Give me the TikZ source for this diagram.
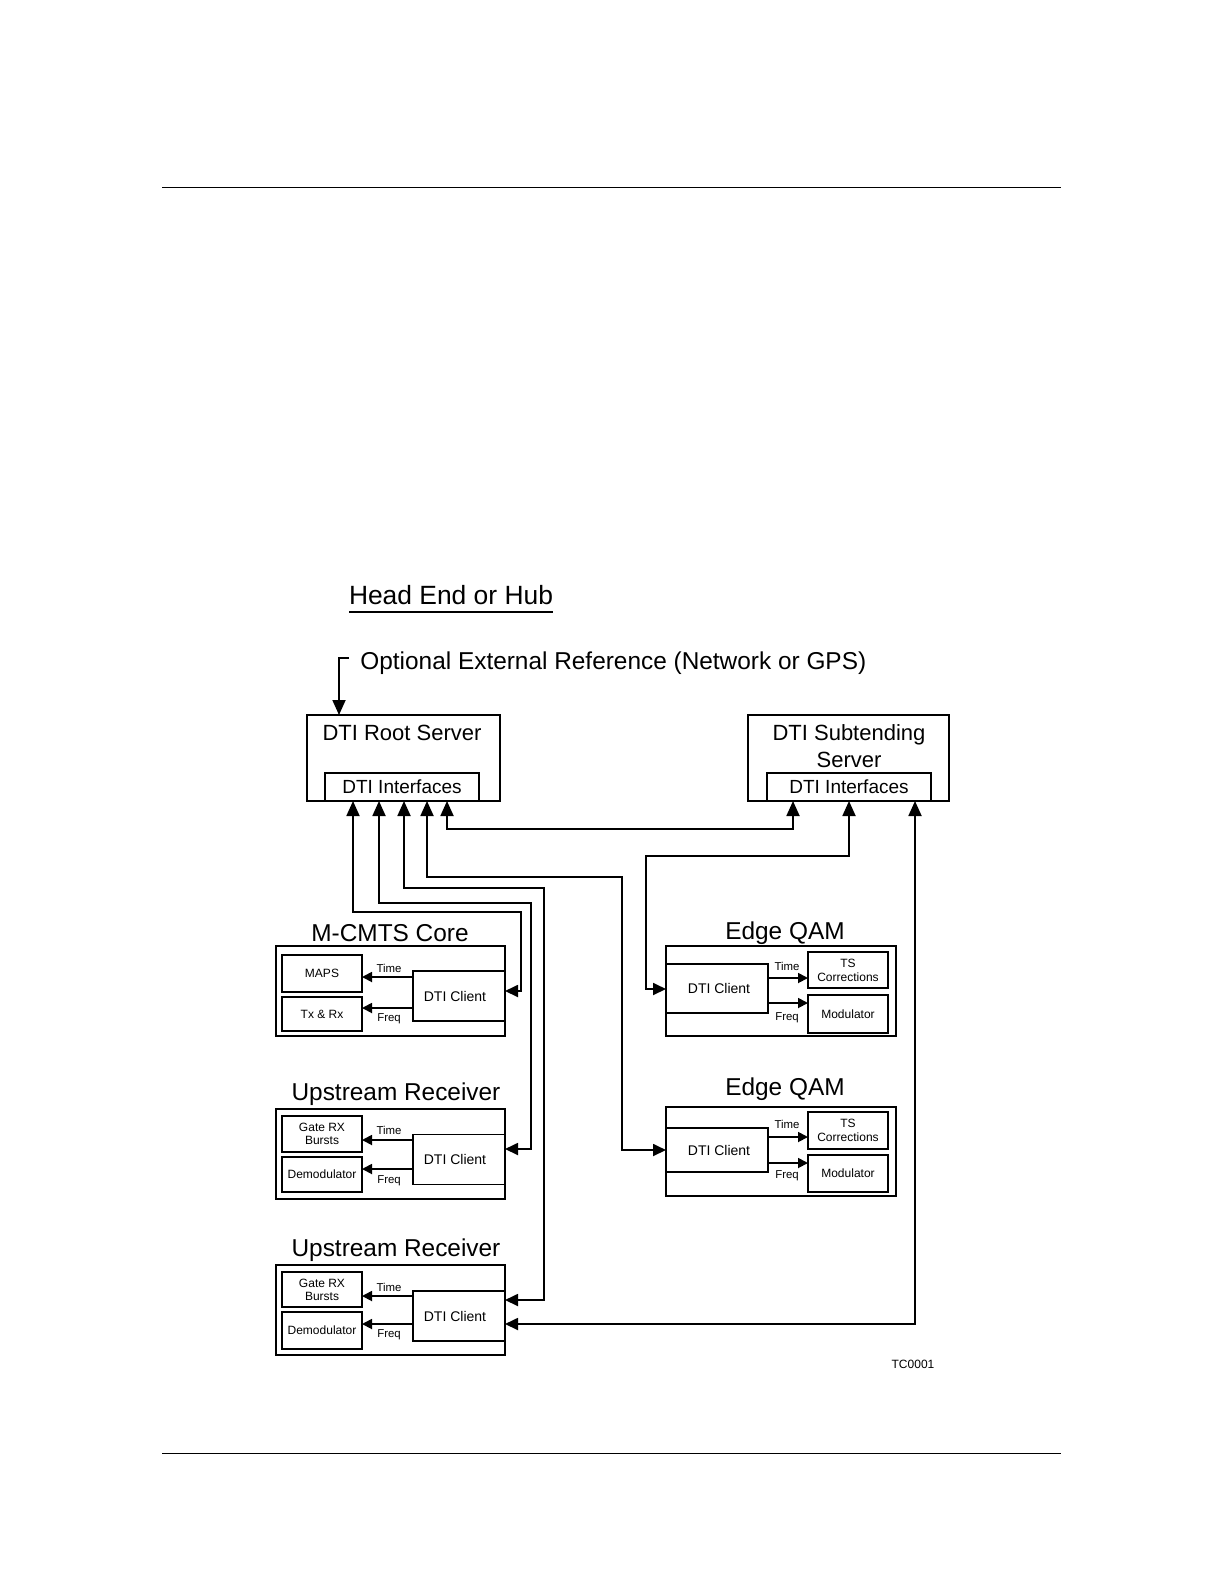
\documentclass[tikz,border=0pt]{standalone}
\usepackage{fontspec}
\setmainfont{Liberation Sans}
\usetikzlibrary{arrows.meta}
\tikzset{
  bigtip/.tip={Triangle[width=6.5pt,length=7.5pt]},
  midtip/.tip={Triangle[width=6pt,length=6.5pt]},
  smalltip/.tip={Triangle[width=5pt,length=5pt]},
  conn/.style={line width=0.9pt},
  rulestyle/.style={line width=0.7pt},
  srvbox/.style={draw, rectangle, line width=0.7pt, inner sep=0pt, outer sep=0pt},
  ifbox/.style={draw, rectangle, line width=0.9pt, inner sep=0pt, outer sep=0pt, font=\fontsize{9.5}{11}\selectfont},
  outerbox/.style={draw, rectangle, line width=0.7pt, inner sep=0pt, outer sep=0pt},
  thickouter/.style={draw, rectangle, line width=1.4pt, inner sep=0pt, outer sep=0pt},
  funcbox/.style={draw, rectangle, line width=1pt, inner sep=0pt, outer sep=0pt, align=center, font=\fontsize{6}{6.5}\selectfont},
  clientbox/.style={draw, rectangle, line width=0.8pt, inner sep=0pt, outer sep=0pt, font=\fontsize{7}{8}\selectfont},
  ttl/.style={inner sep=0pt, font=\fontsize{12.2}{14}\selectfont},
  srvttl/.style={inner sep=0pt, align=center, font=\fontsize{11}{13.5}\selectfont},
  sml/.style={inner sep=0pt, font=\fontsize{5.7}{6.5}\selectfont},
}
\begin{document}
\begin{tikzpicture}[x=0.5pt,y=-0.5pt]
\useasboundingbox (0,0) rectangle (1224,1584);

% page rules
\coordinate (r1L) at (162,187.5); \coordinate (r1R) at (1061,187.5);
\coordinate (r2L) at (162,1453.5); \coordinate (r2R) at (1061,1453.5);
\draw[rulestyle] (r1L) -- (r1R);
\draw[rulestyle] (r2L) -- (r2R);

% heading
\node[inner sep=0pt, anchor=base, font=\fontsize{13.2}{15}\selectfont] (head) at (451,604) {Head End or Hub};
\coordinate (ulL) at (349,612); \coordinate (ulR) at (553,612);
\draw[line width=0.8pt] (ulL) -- (ulR);

\node[inner sep=0pt, anchor=west, font=\fontsize{12.2}{14}\selectfont] (ext) at (360,663) {Optional External Reference (Network or GPS)};

% servers
\node[srvbox, minimum width=96.5pt, minimum height=43pt] (root) at (403.5,758) {};
\node[srvttl] (roottitle) at (402,733) {DTI Root Server};
\node[ifbox, minimum width=77pt, minimum height=14pt] (rootif) at (402,787) {DTI Interfaces};

\node[srvbox, minimum width=100.5pt, minimum height=43pt] (sub) at (848.5,758) {};
\node[srvttl] (subtitle) at (849,746.5) {DTI Subtending\\Server};
\node[ifbox, minimum width=82pt, minimum height=14pt] (subif) at (849,787) {DTI Interfaces};

% external reference bracket
\coordinate (brkA) at (349,658); \coordinate (brkB) at (339,658);
\draw[conn, -bigtip] (brkA) -- (brkB) -- (brkB |- root.north);

% M-CMTS Core
\node[ttl] (mctitle) at (390,933) {M-CMTS Core};
\node[outerbox, minimum width=114.5pt, minimum height=45pt] (mc) at (390.5,991) {};
\node[funcbox, minimum width=40pt, minimum height=18.5pt] (maps) at (322,973.5) {MAPS};
\node[funcbox, minimum width=40pt, minimum height=17pt] (txrx) at (322,1014) {Tx \& Rx};
\node[clientbox, minimum width=46pt, minimum height=25pt] (mcc) at (459,996) {\hspace*{-4pt}DTI Client};
\coordinate (mcT) at (0,977); \coordinate (mcF) at (0,1008);
\draw[conn, -smalltip] (mcc.west |- mcT) -- (maps.east |- mcT);
\draw[conn, -smalltip] (mcc.west |- mcF) -- (txrx.east |- mcF);
\node[sml] (mcTl) at (389,968) {Time};
\node[sml] (mcFl) at (389,1019) {Freq};

% Upstream Receiver 1
\node[ttl] (u1title) at (396,1094) {Upstream Receiver};
\node[outerbox, minimum width=114.5pt, minimum height=45pt] (u1) at (390.5,1154) {};
\node[funcbox, minimum width=40pt, minimum height=18pt] (u1g) at (322,1134) {Gate RX\\Bursts};
\node[funcbox, minimum width=40pt, minimum height=17.5pt] (u1d) at (322,1174.5) {Demodulator};
\node[clientbox, minimum width=46pt, minimum height=25pt] (u1c) at (459,1159.5) {\hspace*{-4pt}DTI Client};
\coordinate (u1T) at (0,1140); \coordinate (u1F) at (0,1169);
\draw[conn, -smalltip] (u1c.west |- u1T) -- (u1g.east |- u1T);
\draw[conn, -smalltip] (u1c.west |- u1F) -- (u1d.east |- u1F);
\node[sml] (u1Tl) at (389,1130) {Time};
\node[sml] (u1Fl) at (389,1181) {Freq};

% Upstream Receiver 2
\node[ttl] (u2title) at (396,1250) {Upstream Receiver};
\node[outerbox, minimum width=114.5pt, minimum height=45pt] (u2) at (390.5,1310) {};
\node[funcbox, minimum width=40pt, minimum height=17.5pt] (u2g) at (322,1289.5) {Gate RX\\Bursts};
\node[funcbox, minimum width=40pt, minimum height=18.5pt] (u2d) at (322,1330.5) {Demodulator};
\node[clientbox, minimum width=46pt, minimum height=25pt] (u2c) at (459,1316) {\hspace*{-4pt}DTI Client};
\coordinate (u2T) at (0,1296); \coordinate (u2F) at (0,1324);
\draw[conn, -smalltip] (u2c.west |- u2T) -- (u2g.east |- u2T);
\draw[conn, -smalltip] (u2c.west |- u2F) -- (u2d.east |- u2F);
\node[sml] (u2Tl) at (389,1287) {Time};
\node[sml] (u2Fl) at (389,1335) {Freq};

% Edge QAM 1
\node[ttl] (e1title) at (785,933) {Edge QAM};
\node[thickouter, minimum width=115pt, minimum height=45pt] (e1) at (781,991) {};
\node[clientbox, minimum width=51pt, minimum height=24.5pt] (e1c) at (717,988.5) {\hspace*{2pt}DTI Client};
\node[funcbox, minimum width=40pt, minimum height=18pt] (e1t) at (848,970) {TS\\[0.5pt]Corrections};
\node[funcbox, minimum width=40pt, minimum height=19pt] (e1m) at (848,1014) {Modulator};
\coordinate (e1T) at (0,978); \coordinate (e1F) at (0,1003);
\draw[conn, -smalltip] (e1c.east |- e1T) -- (e1t.west |- e1T);
\draw[conn, -smalltip] (e1c.east |- e1F) -- (e1m.west |- e1F);
\node[sml] (e1Tl) at (787,966) {Time};
\node[sml] (e1Fl) at (787,1018) {Freq};

% Edge QAM 2
\node[ttl] (e2title) at (785,1089) {Edge QAM};
\node[outerbox, minimum width=115pt, minimum height=44.5pt] (e2) at (781,1151.5) {};
\node[clientbox, minimum width=51pt, minimum height=22pt] (e2c) at (717,1150) {\hspace*{2pt}DTI Client};
\node[funcbox, minimum width=40pt, minimum height=18.5pt] (e2t) at (848,1130.5) {TS\\[0.5pt]Corrections};
\node[funcbox, minimum width=40pt, minimum height=18.5pt] (e2m) at (848,1173.5) {Modulator};
\coordinate (e2T) at (0,1137); \coordinate (e2F) at (0,1163);
\draw[conn, -smalltip] (e2c.east |- e2T) -- (e2t.west |- e2T);
\draw[conn, -smalltip] (e2c.east |- e2F) -- (e2m.west |- e2F);
\node[sml] (e2Tl) at (787,1124) {Time};
\node[sml] (e2Fl) at (787,1176) {Freq};

% figure tag
\node[sml, font=\fontsize{6}{7}\selectfont] (tag) at (913,1364) {TC0001};

% connectors between servers and clients
\coordinate (p1a) at (447,829); \coordinate (p1b) at (793,829);
\draw[conn, bigtip-bigtip] (rootif.south -| p1a) -- (p1a) -- (p1b) -- (subif.south -| p1b);

\coordinate (p2a) at (849,856); \coordinate (p2b) at (646,856); \coordinate (p2c) at (646,989);
\draw[conn, bigtip-midtip] (subif.south -| p2a) -- (p2a) -- (p2b) -- (p2c) -- (e1c.west |- p2c);

\coordinate (p3a) at (915,1324);
\draw[conn, bigtip-midtip] (subif.south -| p3a) -- (p3a) -- (u2c.east |- p3a);

\coordinate (p4a) at (353,912); \coordinate (p4b) at (521,912); \coordinate (p4c) at (521,991);
\draw[conn, bigtip-midtip] (rootif.south -| p4a) -- (p4a) -- (p4b) -- (p4c) -- (mcc.east |- p4c);

\coordinate (p5a) at (379,903); \coordinate (p5b) at (531,903); \coordinate (p5c) at (531,1149);
\draw[conn, bigtip-midtip] (rootif.south -| p5a) -- (p5a) -- (p5b) -- (p5c) -- (u1c.east |- p5c);

\coordinate (p6a) at (404,888); \coordinate (p6b) at (544,888); \coordinate (p6c) at (544,1300);
\draw[conn, bigtip-midtip] (rootif.south -| p6a) -- (p6a) -- (p6b) -- (p6c) -- (u2c.east |- p6c);

\coordinate (p7a) at (427,877); \coordinate (p7b) at (622,877); \coordinate (p7c) at (622,1150);
\draw[conn, bigtip-midtip] (rootif.south -| p7a) -- (p7a) -- (p7b) -- (p7c) -- (e2c.west |- p7c);

\end{tikzpicture}
\end{document}
